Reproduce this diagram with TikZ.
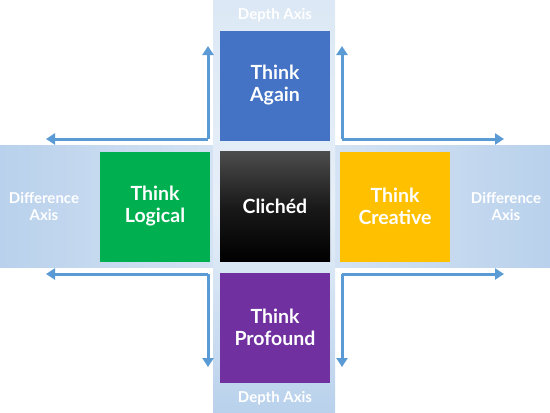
\documentclass[tikz,border=0pt]{standalone}
\usepackage{fontspec}
\setmainfont{Lato}
\usetikzlibrary{arrows.meta}
\definecolor{bandD}{HTML}{B9D1EC}
\definecolor{bandL}{HTML}{DCE8F5}
\definecolor{arrowC}{HTML}{5B9BD5}
\definecolor{cBlue}{HTML}{4472C4}
\definecolor{cGreen}{HTML}{00B050}
\definecolor{cYellow}{HTML}{FFC000}
\definecolor{cPurple}{HTML}{7030A0}
\tikzset{
  sq/.style={minimum width=110pt,minimum height=110pt,inner sep=0pt,text=white,
    font=\fontsize{19.5}{22}\selectfont\bfseries,align=center},
  axlabel/.style={text=white,font=\fontsize{15}{17}\selectfont\bfseries,align=center,inner sep=0pt},
  arr/.style={draw=arrowC,line width=3pt,-{Triangle[length=9pt,width=11pt]}}
}
\begin{document}
\begin{tikzpicture}[x=1pt,y=-1pt]
\useasboundingbox (0,0) rectangle (550,413);
\fill[white] (0,0) rectangle (550,413);
% bands
\shade[left color=bandD,right color=bandD,middle color=bandL] (0,145) rectangle (550,267);
\shade[top color=bandL,bottom color=bandD,middle color=bandL!70!white] (213,0) rectangle (335,413);
% boxes
\node[sq,fill=cBlue] (again) at (275,85.5) {Think\\Again};
\node[sq,fill=cGreen] (logical) at (155,206.5) {Think\\Logical};
\node[sq,top color=black!70,bottom color=black,middle color=black!90] (cliched) at (275,206.5) {Clichéd};
\node[sq,fill=cYellow] (creative) at (395,206.5) {Think\\Creative};
\node[sq,fill=cPurple] (profound) at (275,327.5) {Think\\Profound};
% labels
\node[axlabel] (dtop) at (275,15) {Depth Axis};
\node[axlabel] (dbot) at (275,398) {Depth Axis};
\node[axlabel] (dleft) at (44,206) {Difference\\Axis};
\node[axlabel] (dright) at (506,206) {Difference\\Axis};
% arrow corners and tips
\coordinate (tl) at (208,139);
\coordinate (tr) at (342,139);
\coordinate (bl) at (208,274);
\coordinate (br) at (342,274);
\coordinate (tlU) at (208,46);
\coordinate (tlL) at (46,139);
\coordinate (trU) at (342,46);
\coordinate (trR) at (504,139);
\coordinate (blD) at (208,367);
\coordinate (blL) at (46,274);
\coordinate (brD) at (342,367);
\coordinate (brR) at (504,274);
\draw[arr] (tl) -- (tlU);
\draw[arr] (tl) -- (tlL);
\draw[arr] (tr) -- (trU);
\draw[arr] (tr) -- (trR);
\draw[arr] (bl) -- (blD);
\draw[arr] (bl) -- (blL);
\draw[arr] (br) -- (brD);
\draw[arr] (br) -- (brR);
\end{tikzpicture}
\end{document}
